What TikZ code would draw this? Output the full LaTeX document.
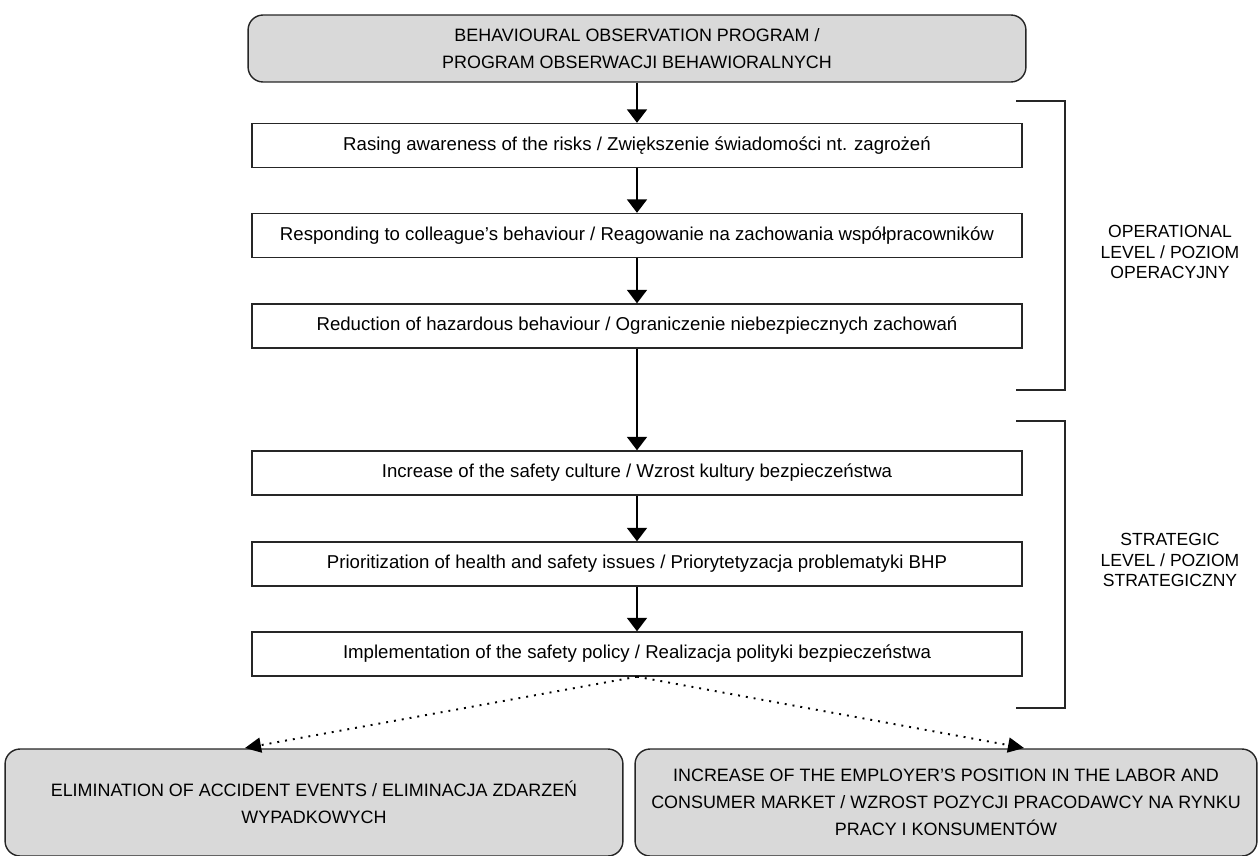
\documentclass[tikz,border=0pt]{standalone}
\usepackage{fontspec}
\setmainfont{Liberation Sans}
\usetikzlibrary{arrows.meta}

\begin{document}
\begin{tikzpicture}[x=0.02cm,y=-0.02cm,
    font=\fontsize{10.2}{15.3}\selectfont,
    stepbox/.style={draw=black!85,line width=0.8pt,fill=white,minimum width=15.4cm,minimum height=0.88cm,inner sep=0pt,font=\fontsize{10.6}{13}\selectfont},
    headbox/.style={draw=black!85,line width=0.8pt,fill=black!15,rounded corners=0.3cm,align=center,inner sep=0pt},
    flow/.style={line width=1.1pt,-{Triangle[width=0.4cm,length=0.27cm]}},
    result/.style={line width=1.1pt,dash pattern=on 1.1pt off 3.4pt,-{Triangle[width=0.3cm,length=0.32cm]}},
    brace/.style={draw=black!85,line width=0.8pt},
    levellabel/.style={align=center,font=\fontsize{10}{11.6}\selectfont}]
  \useasboundingbox (0,0) rectangle (1259,856);
  % main flow
  \node[headbox,minimum width=15.56cm,minimum height=1.34cm] (BOP) at (637,48.5)
    {BEHAVIOURAL OBSERVATION PROGRAM /\\PROGRAM OBSERWACJI BEHAWIORALNYCH};
  \node[stepbox] (S1) at (637,145.5) {Rasing awareness of the risks / Zwiększenie świadomości nt. zagrożeń};
  \node[stepbox] (S2) at (637,235.5) {Responding to colleague’s behaviour / Reagowanie na zachowania współpracowników};
  \node[stepbox] (S3) at (637,326)   {Reduction of hazardous behaviour / Ograniczenie niebezpiecznych zachowań};
  \node[stepbox] (S4) at (637,473)   {Increase of the safety culture / Wzrost kultury bezpieczeństwa};
  \node[stepbox] (S5) at (637,564)   {Prioritization of health and safety issues / Priorytetyzacja problematyki BHP};
  \node[stepbox] (S6) at (637,654)   {Implementation of the safety policy / Realizacja polityki bezpieczeństwa};
  \draw[flow] (BOP) -- (S1);
  \draw[flow] (S1) -- (S2);
  \draw[flow] (S2) -- (S3);
  \draw[flow] (S3) -- (S4);
  \draw[flow] (S4) -- (S5);
  \draw[flow] (S5) -- (S6);
  % outcomes
  \node[headbox,minimum width=12.36cm,minimum height=2.14cm] (ELIM) at (314,802.5)
    {ELIMINATION OF ACCIDENT EVENTS / ELIMINACJA ZDARZEŃ\\WYPADKOWYCH};
  \node[headbox,minimum width=12.44cm,minimum height=2.14cm] (EMPL) at (946,802.5)
    {INCREASE OF THE EMPLOYER’S POSITION IN THE LABOR AND\\CONSUMER MARKET / WZROST POZYCJI PRACODAWCY NA RYNKU\\PRACY I KONSUMENTÓW};
  \coordinate (eL) at (245,748);
  \coordinate (eR) at (1024,748);
  \draw[result] (S6.south) -- (eL);
  \draw[result] (S6.south) -- (eR);
  % levels
  \coordinate (opT) at (1016,101);
  \coordinate (opB) at (1016,390);
  \coordinate (stT) at (1016,421);
  \coordinate (stB) at (1016,708);
  \draw[brace] (opT) -- ++(49,0) |- (opB);
  \draw[brace] (stT) -- ++(49,0) |- (stB);
  \node[levellabel] (OPL) at (1170,252) {OPERATIONAL\\LEVEL / POZIOM\\OPERACYJNY};
  \node[levellabel] (STL) at (1170,560) {STRATEGIC\\LEVEL / POZIOM\\STRATEGICZNY};
\end{tikzpicture}
\end{document}
